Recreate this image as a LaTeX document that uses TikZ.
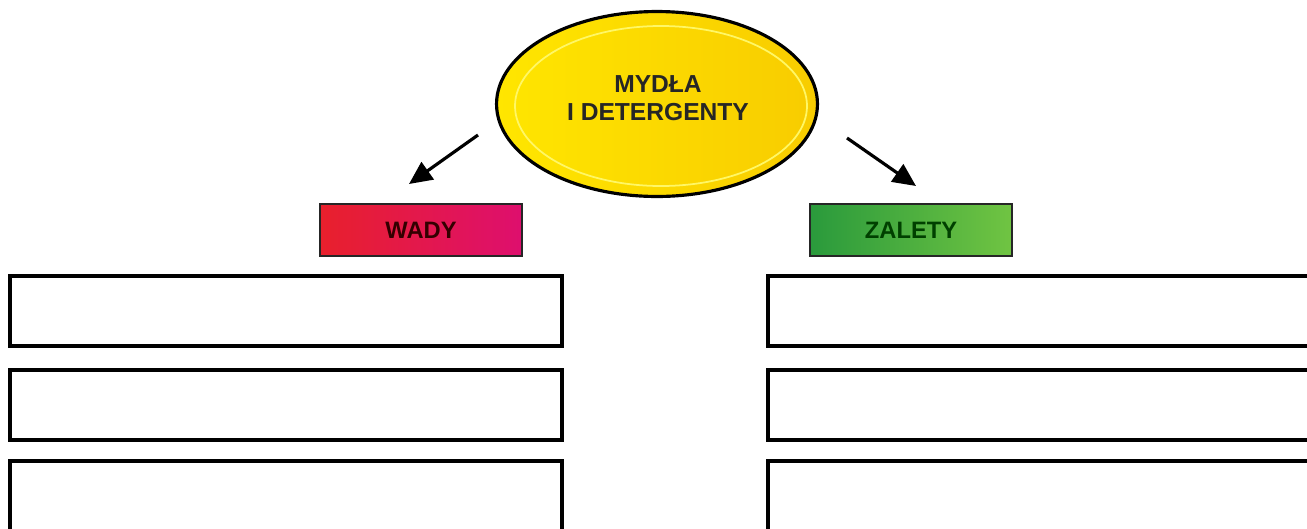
\documentclass[tikz,border=0pt]{standalone}
\usepackage{fontspec}
\setmainfont{Liberation Sans}
\usepackage{tikz}
\usetikzlibrary{shapes.geometric,arrows.meta}

\definecolor{zolty}{HTML}{FFE600}
\definecolor{zoltyciemny}{HTML}{F8CC00}
\definecolor{czerwony}{HTML}{E8202C}
\definecolor{rozowy}{HTML}{DE0F6E}
\definecolor{zielonyciemny}{HTML}{2A9A3C}
\definecolor{zielonyjasny}{HTML}{70C442}

\begin{document}
\begin{tikzpicture}[x=0.02cm,y=-0.02cm]
\tikzstyle{ramka}=[draw=black,line width=2pt,minimum width=11.04cm,minimum height=1.4cm,inner sep=0pt];
\tikzstyle{etykieta}=[draw=black!85,line width=1.5pt,minimum width=4.04cm,minimum height=1.04cm,inner sep=0pt,font=\bfseries\fontsize{13.5}{16}\selectfont];
\tikzstyle{strzalka}=[line width=1.8pt,-{Triangle[length=0.46cm,width=0.42cm]}];
\useasboundingbox (0,0) rectangle (1307,528);
\clip (0,0) rectangle (1307,528);

% owal u gory
\node[ellipse,draw=black,line width=1.8pt,left color=zolty,right color=zoltyciemny,
      minimum width=6.42cm,minimum height=3.7cm,inner sep=0pt] (mydla) at (657,104) {};
\draw[yellow!60!white,line width=1pt] (mydla.center) ++(4,2) ellipse [x radius=146,y radius=80];
\node[align=center,font=\bfseries\fontsize{14}{16}\selectfont,text=black!85] (napis) at (658,98)
  {MYDŁA\\I DETERGENTY};

% etykiety
\node[etykieta,left color=czerwony,right color=rozowy,text=black!80!red] (wady) at (421,230) {WADY};
\node[etykieta,left color=zielonyciemny,right color=zielonyjasny,text=black!75!green] (zalety) at (911,230) {ZALETY};

% strzalki
\coordinate (lewyA) at (478,135);
\coordinate (lewyB) at (409,184);
\coordinate (prawyA) at (847,138);
\coordinate (prawyB) at (916,186);
\draw[strzalka] (lewyA) -- (lewyB);
\draw[strzalka] (prawyA) -- (prawyB);

% puste ramki
\node[ramka] (wada1) at (286,311) {};
\node[ramka] (wada2) at (286,405) {};
\node[ramka] (wada3) at (286,496) {};
\node[ramka] (zaleta1) at (1044,311) {};
\node[ramka] (zaleta2) at (1044,405) {};
\node[ramka] (zaleta3) at (1044,496) {};
\end{tikzpicture}
\end{document}
